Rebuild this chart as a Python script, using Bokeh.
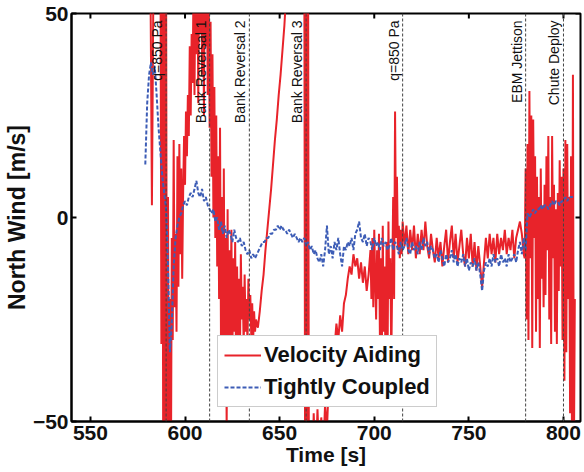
import numpy as np
from bokeh.plotting import figure
from bokeh.models import Span, Legend, LegendItem, FixedTicker, Range1d
from bokeh.core.properties import value
from bokeh.embed import file_html
from bokeh.resources import INLINE

# ---------------- data ----------------
x_ticks = [550, 600, 650, 700, 750, 800]
y_ticks = [-50, 0, 50]

event_times = [590, 613, 634, 664, 715, 780, 800]
event_labels = ["q=850 Pa", "Bank Reversal 1", "Bank Reversal 2", "Bank Reversal 3",
                "q=850 Pa", "EBM Jettison", "Chute Deploy"]

series_names = ["Velocity Aiding", "Tightly Coupled"]

# Tightly Coupled: one value per second starting at t = 579 s
blue_start = 579
blue_v = [
    13, 28, 35, 38, 35, 37, 30, 22, 16, 10,
    6, 2, -12, -33, -26, -12, -5, -2, 0, 1,
    3, 4, 3, 5, 6, 5, 7, 9, 6, 5,
    7, 4, 5, 3, 2, 1, 2, -1, 0, -3,
    -1, -4, -2, -5, -3, -4, -6, -3, -5, -6,
    -5, -7, -6, -8, -9, -8, -10, -9, -10, -9,
    -8, -7, -6, -6, -5, -5, -4, -4, -3, -3,
    -2, -3, -2, -3, -3, -4, -3, -4, -5, -4,
    -5, -6, -5, -6, -5, -7, -6, -8, -7, -9,
    -8, -10, -11, -9, -12, -8, -2, -9, -7, -10,
    -6, -8, -5, -9, -12, -7, -8, -6, -7, -5,
    -8, -4, -3, -1, -5, -6, -4, -7, -5, -6,
    -8, -5, -7, -6, -8, -5, -7, -6, -8, -7,
    -5, -8, -6, -7, -9, -6, -8, -7, -5, -8,
    -9, -6, -8, -7, -9, -6, -8, -5, -7, -6,
    -9, -7, -8, -10, -9, -11, -8, -10, -12, -9,
    -11, -10, -8, -11, -9, -12, -10, -11, -9, -12,
    -10, -13, -11, -12, -10, -13, -11, -14, -18, -13,
    -11, -12, -10, -12, -9, -11, -10, -12, -9, -11,
    -10, -12, -9, -11, -10, -9, -11, -8, -6, -9,
    -5, -8, 1, 0, 1, 2, 1, 2, 2, 3,
    2, 3, 3, 2, 3, 4, 3, 4, 4, 3,
    4, 4, 5, 4, 5, 5, 5,
]
blue_t = [blue_start + i for i in range(len(blue_v))]

# Velocity Aiding (values beyond +/-50 run off the chart)
red_t = [
    581.5, 582.5, 583.5, 586.0, 587.0, 587.5, 588.0, 588.5, 589.0, 589.5,
    590.0, 590.5, 591.0, 591.5, 592.0, 592.5, 593.0, 593.5, 594.0, 594.5,
    595.0, 595.5, 596.0, 596.5, 597.0, 597.5, 598.0, 598.5, 599.0, 599.5,
    600.0, 600.5, 601.0, 601.5, 602.0, 602.5, 603.0, 603.5, 604.0, 604.5,
    605.0, 605.5, 606.0, 606.5, 607.0, 607.5, 608.0, 608.5, 609.0, 609.5,
    610.0, 610.5, 611.0, 611.5, 612.0, 612.5, 613.0, 613.5, 614.0, 614.5,
    615.0, 615.5, 616.0, 616.5, 617.0, 617.5, 618.0, 618.5, 619.0, 619.5,
    620.0, 620.5, 621.0, 621.5, 622.0, 622.5, 623.0, 623.5, 624.0, 624.5,
    625.0, 625.5, 626.0, 626.5, 627.0, 627.5, 628.0, 628.5, 629.0, 629.5,
    630.0, 630.5, 631.0, 631.5, 632.0, 632.5, 633.0, 633.5, 634.0, 634.5,
    635.0, 635.5, 636.0, 636.5, 637.0, 637.5, 638.5, 639.5, 640.5, 641.5,
    642.5, 643.5, 644.5, 645.5, 646.5, 647.5, 648.5, 649.5, 650.5, 651.5,
    652.5, 653.5, 656.0, 660.0, 663.0, 663.5, 664.0, 664.5, 665.0, 665.5,
    667.0, 668.0, 669.0, 670.0, 671.0, 672.0, 673.0, 674.0, 675.0, 676.0,
    677.0, 678.0, 679.0, 680.0, 681.0, 682.0, 683.0, 684.0, 685.0, 686.0,
    687.0, 688.0, 689.0, 690.0, 691.0, 692.0, 693.0, 694.0, 695.0, 696.0,
    697.0, 698.0, 698.5, 699.0, 699.5, 700.0, 700.5, 701.0, 701.5, 702.0,
    702.5, 703.0, 703.5, 704.0, 704.5, 705.0, 705.5, 706.0, 706.5, 707.0,
    707.5, 708.0, 708.5, 709.0, 709.5, 710.0, 710.5, 711.0, 711.5, 712.0,
    712.5, 713.0, 713.5, 714.0, 714.5, 715.0, 716.0, 717.0, 718.0, 719.0,
    720.0, 721.0, 722.0, 723.0, 724.0, 725.0, 726.0, 727.0, 728.0, 729.0,
    730.0, 731.0, 732.0, 733.0, 734.0, 735.0, 736.0, 737.0, 738.0, 739.0,
    740.0, 741.0, 742.0, 743.0, 744.0, 745.0, 746.0, 747.0, 748.0, 749.0,
    750.0, 751.0, 752.0, 753.0, 754.0, 755.0, 756.0, 757.0, 758.0, 759.0,
    760.0, 761.0, 762.0, 763.0, 764.0, 765.0, 766.0, 767.0, 768.0, 769.0,
    770.0, 771.0, 772.0, 773.0, 774.0, 775.0, 776.0, 777.0, 778.0, 779.0,
    779.5, 780.0, 780.5, 781.0, 781.5, 782.0, 782.5, 783.0, 783.5, 784.0,
    784.5, 785.0, 785.5, 786.0, 786.5, 787.0, 787.5, 788.0, 788.5, 789.0,
    789.5, 790.0, 790.5, 791.0, 791.5, 792.0, 792.5, 793.0, 793.5, 794.0,
    794.5, 795.0, 795.5, 796.0, 796.5, 797.0, 797.5, 798.0, 798.5, 799.0,
    799.5, 800.0, 800.5, 801.0, 801.5, 802.0, 802.5, 803.0, 803.5, 804.0,
    804.5, 805.0, 805.5, 806.0,
]
red_v = [
    75, 3, 72, 78, 70, -31, 72, -72, 74, -75,
    60, -74, 5, -72, -20, -70, -5, -30, 19, -22,
    -4, -28, 15, -17, 18, -9, 12, -15, 6, 20,
    8, 26, 15, 30, 20, 42, 25, 45, 33, 58,
    30, 62, 40, 70, 28, 65, 45, 75, 35, 60,
    25, 70, 42, 65, 30, 58, 22, 48, 10, 40,
    0, 32, -5, 25, -12, 15, -20, 22, -30, 5,
    -45, 12, -35, -5, -52, 2, -40, -8, -30, -3,
    -36, -10, -28, -6, -42, -12, -30, -15, -35, -9,
    -25, -17, -32, -14, -28, -20, -31, -15, -25, -19,
    -29, -21, -30, -23, -28, -25, -27, -23, -18, -14,
    -8, -3, 2, 7, 13, 19, 24, 30, 35, 41,
    47, 55, 68, 75, 75, -75, 75, -75, 75, -75,
    -70, -48, -62, -47, -60, -49, -58, -46, -52, -40,
    -33, -29, -32, -26, -30, -24, -28, -21, -19, -15,
    -12, -14, -9, -12, -10, -15, -11, -16, -12, -18,
    -14, -8, -20, -5, -22, -3, -15, -25, -8, -20,
    -4, -30, -10, -35, -2, -28, -12, -42, -6, -38,
    -1, -20, -10, -35, -15, 5, -20, 26, -5, 10,
    -8, -2, -10, -3, -9, -1, -7, -2, -9, -3,
    -8, -2, -10, -4, -9, -3, -8, -1, -7, -10,
    -4, -8, -11, -5, -10, -6, -12, -7, -3, -11,
    -6, -2, -10, -4, -11, -7, -3, -9, -12, -5,
    -10, -4, -12, -6, -13, -7, -12, -17, -11, -5,
    -10, -4, -9, -5, -11, -4, -9, -5, -8, -3,
    -9, -5, -8, -3, -10, -5, -3, -1, -4, -9,
    -10, 12, -25, 18, -30, 31, -10, 25, -32, 24,
    -5, 15, -28, 10, -20, 5, -32, 12, -15, 3,
    -22, 8, -19, 15, -8, 20, -25, 5, -31, 20,
    -10, 8, -28, 2, -31, 6, -18, 14, -12, 10,
    -30, 12, -40, 19, -33, 18, -20, 5, -48, 15,
    -55, 35, -60, -20,
]

# ---------------- figure ----------------
FONT = "Liberation Sans"
RED = "#e8232a"
BLUE = "#3d5db6"
X0, X1 = 540, 809
Y0, Y1 = -50, 50

p = figure(width=584, height=472,
           x_range=Range1d(X0, X1), y_range=Range1d(Y0, Y1),
           output_backend="svg", toolbar_location=None,
           min_border_left=71, min_border_right=4,
           min_border_top=13, min_border_bottom=51)
p.background_fill_color = "white"
p.border_fill_color = "white"
p.grid.visible = False
p.outline_line_color = "black"
p.outline_line_width = 2

r_red = p.line(red_t, red_v, line_color=RED, line_width=2)
r_blue = p.line(blue_t, blue_v, line_color=BLUE, line_width=2, line_dash="4 2")

for t in event_times:
    p.add_layout(Span(location=t, dimension="height", line_color="#444444",
                      line_width=1, line_dash="3 2"))

p.text(x=event_times, y=[48.3] * len(event_times), text=event_labels,
       angle=np.pi / 2, text_align="right", text_baseline="bottom",
       x_offset=-1, text_font=value(FONT), text_font_size="14px",
       text_color="#111111")

# mirrored tick marks on the top and right edges of the box
p.ray(x=x_ticks, y=[Y1] * len(x_ticks), length=5, length_units="screen",
      angle=-np.pi / 2, line_color="black", line_width=2)
p.ray(x=[X1] * len(y_ticks), y=y_ticks, length=5, length_units="screen",
      angle=np.pi, line_color="black", line_width=2)

# main axes
xa = p.xaxis[0]
ya = p.yaxis[0]
xa.ticker = FixedTicker(ticks=x_ticks)
ya.ticker = FixedTicker(ticks=y_ticks)
for ax in (xa, ya):
    ax.axis_line_width = 2
    ax.axis_line_color = "black"
    ax.major_tick_in = 5
    ax.major_tick_out = 0
    ax.major_tick_line_width = 2
    ax.minor_tick_line_color = None
    ax.major_label_text_font = FONT
    ax.major_label_text_font_style = "bold"
    ax.major_label_text_font_size = "21px"
    ax.major_label_text_color = "#111111"
    ax.axis_label_text_font = FONT
    ax.axis_label_text_font_style = "bold"
    ax.axis_label_text_color = "#111111"
xa.axis_label = "Time [s]"
xa.axis_label_text_font_size = "21px"
xa.major_label_standoff = 4
xa.axis_label_standoff = 0
ya.axis_label = "North Wind [m/s]"
ya.axis_label_text_font_size = "23px"
ya.major_label_standoff = 3
ya.axis_label_standoff = 0

legend = Legend(items=[LegendItem(label=series_names[0], renderers=[r_red]),
                       LegendItem(label=series_names[1], renderers=[r_blue])],
                location=(146, 14), orientation="vertical",
                glyph_width=37, glyph_height=24, label_height=24,
                label_standoff=3, padding=6, spacing=6, margin=0,
                label_text_font=FONT, label_text_font_style="bold",
                label_text_font_size="22px", label_text_color="#111111",
                border_line_color="#999999", border_line_width=1,
                background_fill_color="white", background_fill_alpha=1.0)
p.add_layout(legend)

open("out.html", "w").write(file_html(p, INLINE))
